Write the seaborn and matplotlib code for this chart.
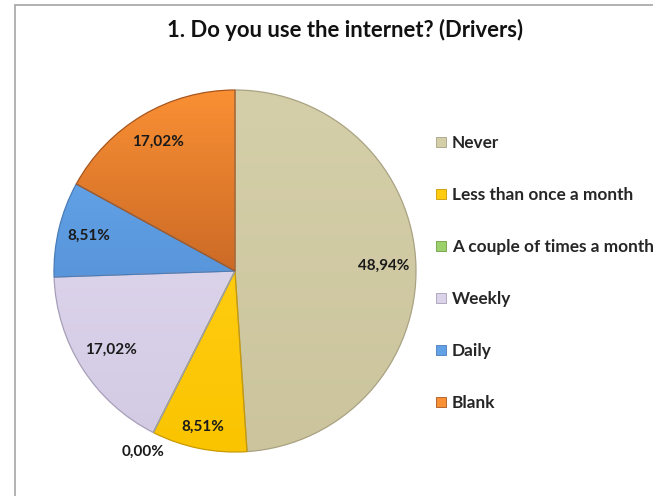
import numpy as np
import matplotlib
matplotlib.use("Agg")
import matplotlib.pyplot as plt
import seaborn as sns
from matplotlib.colors import LinearSegmentedColormap
from matplotlib.patches import Rectangle
from matplotlib.lines import Line2D

# Survey answers
categories = ["Never", "Less than once a month", "A couple of times a month",
              "Weekly", "Daily", "Blank"]
shares = [48.94, 8.51, 0.00, 17.02, 8.51, 17.02]
label_texts = ["48,94%", "8,51%", "0,00%", "17,02%", "8,51%", "17,02%"]

# Slice colours: (top, bottom) of each slice's vertical shading, plus outline
top_colors = ["#D5CFA9", "#FFCC10", "#9BD06A", "#DBD3EA", "#62A1E6", "#FA9034"]
bottom_colors = ["#CBC49D", "#FAC400", "#86BF55", "#D3CAE4", "#5895DA", "#CC6A26"]
edge_colors = ["#A9A283", "#C99A00", "#6E9E45", "#A79FB8", "#4A7DB8", "#A8561E"]
label_radius = [0.82, 0.88, 1.12, 0.81, 0.83, 0.83]

sns.set_theme(style="white")
plt.rcParams["font.family"] = ["Lato", "DejaVu Sans"]

W, H = 653, 496
fig = plt.figure(figsize=(W / 100, H / 100), dpi=100)
fig.patch.set_facecolor("white")

# Pie axes: centre (235, 271) px, radius 181 px
cx, cy, r = 235, 271, 181
ax = fig.add_axes([(cx - r) / W, (H - cy - r) / H, 2 * r / W, 2 * r / H])

wedges, _ = ax.pie(shares, colors=top_colors, startangle=90, counterclock=False,
                   radius=1.0,
                   wedgeprops=dict(linewidth=0.9, zorder=3))

grad = np.linspace(0, 1, 256).reshape(-1, 1)
for w, ct, cb, ce in zip(wedges, top_colors, bottom_colors, edge_colors):
    w.set_edgecolor(ce)
    w.set_facecolor("none")
    bb = w.get_path().get_extents()
    if bb.width <= 0 or bb.height <= 0:
        continue
    cmap = LinearSegmentedColormap.from_list("shade", [ct, cb])
    im = ax.imshow(grad, cmap=cmap, aspect="auto", interpolation="bilinear",
                   origin="upper", extent=(bb.x0, bb.x1, bb.y0, bb.y1), zorder=2)
    im.set_clip_path(w)

ax.set_xlim(-1.0, 1.0)
ax.set_ylim(-1.0, 1.0)
ax.set_aspect("equal")
ax.axis("off")

# Percentage labels at each slice's mid-angle
for w, txt, rr in zip(wedges, label_texts, label_radius):
    mid = np.deg2rad((w.theta1 + w.theta2) / 2)
    ax.text(rr * np.cos(mid), rr * np.sin(mid), txt, ha="center", va="center",
            fontsize=11, fontweight="bold", color="#1a1a1a", zorder=5)

# Title
fig.text(345 / W, 1 - 30 / H, "1. Do you use the internet? (Drivers)",
         ha="center", va="center", fontsize=15.8, fontweight="bold", color="#111111")

# Legend
handles = [Rectangle((0, 0), 1, 1, facecolor=c, edgecolor=e, linewidth=0.6)
           for c, e in zip(top_colors, edge_colors)]
fig.legend(handles, categories, loc="upper left",
           bbox_to_anchor=(436 / W, 1 - 135 / H), frameon=False,
           prop=dict(weight="bold", size=12.4),
           handlelength=0.58, handleheight=0.58, handletextpad=0.33,
           labelspacing=2.09, borderpad=0, borderaxespad=0)

# Chart-area frame
fig.add_artist(Line2D([15 / W, 15 / W], [0, 1 - 5 / H], transform=fig.transFigure,
                      color="#A6A6A6", linewidth=1.2))
fig.add_artist(Line2D([15 / W, 1], [1 - 5 / H, 1 - 5 / H], transform=fig.transFigure,
                      color="#A6A6A6", linewidth=1.2))

fig.savefig("out.png", dpi=100, facecolor="white")
